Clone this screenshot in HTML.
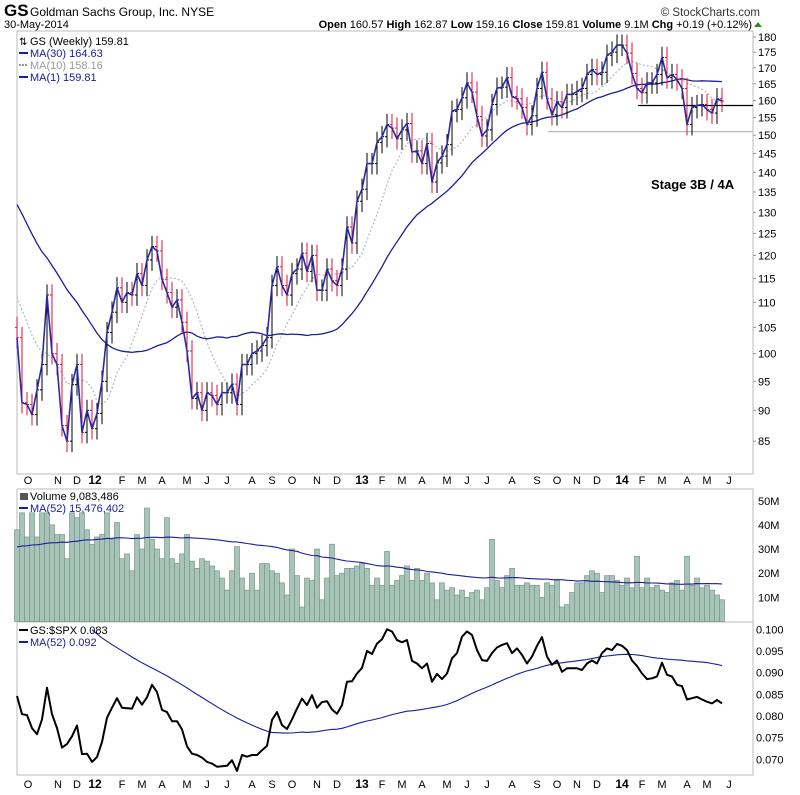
<!DOCTYPE html>
<html><head><meta charset="utf-8">
<style>
html,body{margin:0;padding:0;background:#fff;}
svg{display:block;font-family:"Liberation Sans",Arial,sans-serif;}
</style></head>
<body>
<svg id="chart" width="800" height="795" viewBox="0 0 800 795" xmlns="http://www.w3.org/2000/svg">
  <g>
    <text x="4" y="16" font-size="17" font-weight="bold" fill="#000">GS</text>
    <text x="30" y="16" font-size="12" fill="#000">Goldman Sachs Group, Inc.  NYSE</text>
    <text x="4" y="28" font-size="11" fill="#000">30-May-2014</text>
    <text x="760" y="16" font-size="11.5" fill="#333" text-anchor="end">© StockCharts.com</text>
    <text x="752" y="28" font-size="11" fill="#000" text-anchor="end"><tspan font-weight="bold">Open</tspan> 160.57 <tspan font-weight="bold">High</tspan> 162.87 <tspan font-weight="bold">Low</tspan> 159.16 <tspan font-weight="bold">Close</tspan> 159.81 <tspan font-weight="bold">Volume</tspan> 9.1M <tspan font-weight="bold">Chg</tspan> +0.19 (+0.12%)</text>
    <polygon points="754,27 762,27 758,22" fill="#2a8a2a"/>
  </g>
  <g id="panels"></g>
  <g id="price"></g>
  <g id="volume"></g>
  <g id="ratio"></g>
  <g id="axes"></g>
  <text x="651" y="189" font-size="13" font-weight="bold" fill="#000">Stage 3B / 4A</text>
</svg>
<script>
// ---------- DATA ----------
const priorCloses = [160,163,160,158,155,152,150,148,140,138,135,137,135,133,132,135,132,130,128,125,118,115,115,112,112,113,110,108,105];
const closes = [103,91.3,91,89.3,93.5,98,111.5,100,98,87.5,
85,94.4,98,86.4,90,87,89.5,95,104,108,
113,110,112,111.5,116,113.5,119,122,121,114.8,
112,109,110.5,106,100.5,92,93,90,93,92.5,
91,93,93,94.5,91,98,98,100,100.5,101.5,
103,113.5,117.5,113.5,111.5,116,117,120.5,116.5,120,
112.5,112.5,117,114.5,113.5,117,126.5,122.8,132.7,135.7,
142.3,142.3,148,149.6,153,152,149,151.5,153.3,145.4,
145.7,142.3,147.7,137.5,142.5,144.3,147.4,156.8,157.4,160.8,
165.3,162.5,155.3,149.8,151.5,158.8,163.7,164,166.9,161.2,
160.5,157.9,153,155.5,163.6,168.6,160.5,155.8,159.6,157.9,
161.8,161.8,162.7,163.6,167.9,169.5,167.9,168.6,174,175,
177.3,177.3,174.7,168.2,163.6,162.3,165.3,165.3,167.9,173.3,
166.9,167.9,166.3,163.6,153,157.9,158.5,158.8,157.3,156.3,
160.5,159.81];
const priorVolume = [28,30,26,32,29,27,31,33,25,28,30,34,27,29,31,26,28,30,33,29,27,31,35,30,28,32,29,31,34,30,27,33,36,29,31,28,32,35,30,33,31,29,34,37,32,30,35,33,31,36,34];
const volumes = [38,45,35,45,35,45,45,40,36,36,
26,45,43,45,38,32,35,36,45,34,
41,26,28,21,36,30,47,34,30,26,
43,26,24,28,36,25,22,26,25,23,
21,18,13,21,31,18,13,20,13,24,
24,21,20,16,11,30,19,6,18,17,
30,9,18,32,19,20,22,22,23,24,
22,15,18,15,29,15,17,19,23,17,
22,17,20,16,9,16,13,14,11,13,
10,12,13,9,14,34,17,14,19,22,
15,15,16,15,15,10,16,15,17,6,
7,12,16,16,19,21,20,12,19,19,
17,15,18,14,27,14,18,14,15,13,
12,16,17,13,27,15,18,14,15,13,
11,9];
const priorRatio = [0.128,0.129,0.127,0.126,0.128,0.130,0.129,0.127,0.125,0.124,
0.126,0.125,0.123,0.122,0.124,0.123,0.121,0.120,0.122,0.121,
0.119,0.118,0.120,0.119,0.117,0.116,0.118,0.116,0.114,0.113,
0.115,0.114,0.112,0.110,0.111,0.109,0.107,0.108,0.106,0.105,
0.103,0.104,0.102,0.100,0.101,0.099,0.098,0.097,0.096,0.095,0.094];
const ratio = [0.0846,0.0804,0.0802,0.0772,0.0758,0.0792,0.0865,0.0804,0.0772,0.0727,
0.0735,0.0753,0.0778,0.0712,0.0713,0.0694,0.0705,0.0740,0.0796,0.0819,
0.0841,0.0819,0.0818,0.0817,0.0843,0.0826,0.0843,0.0872,0.0855,0.0814,
0.0809,0.0788,0.0788,0.0769,0.0730,0.0713,0.0710,0.0704,0.0694,0.0690,
0.0683,0.0684,0.0685,0.0698,0.0673,0.0710,0.0706,0.0710,0.0710,0.0721,
0.0731,0.0791,0.0809,0.0779,0.0770,0.0792,0.0817,0.0840,0.0825,0.0848,
0.0819,0.0832,0.0834,0.0815,0.0805,0.0825,0.0879,0.0880,0.0898,0.0911,
0.0950,0.0943,0.0967,0.0977,0.1000,0.0995,0.0975,
0.0970,0.0975,0.0927,0.0921,0.0910,0.0921,0.0879,0.0897,0.0885,0.0898,
0.0933,0.0945,0.0983,0.0995,0.0987,0.0952,0.0929,0.0927,0.0945,0.0958,
0.0964,0.0968,0.0945,0.0956,0.0941,0.0921,0.0937,0.0962,0.0982,0.0937,
0.0918,0.0928,0.0902,0.0910,0.0910,0.0910,0.0906,0.0921,0.0928,0.0921,
0.0945,0.0956,0.0952,0.0966,0.0962,0.0952,0.0928,0.0915,0.0898,0.0885,
0.0887,0.0891,0.0923,0.0895,0.0891,0.0872,0.0869,0.0838,0.0841,0.0844,
0.0838,0.0833,0.0829,0.0837,0.0829];
const priceTicks = [85,90,95,100,105,110,115,120,125,130,135,140,145,150,155,160,165,170,175,180];
const volumeTicks = [10,20,30,40,50];
const volumeTickLabels = ["10M","20M","30M","40M","50M"];
const ratioTicks = [0.070,0.075,0.080,0.085,0.090,0.095,0.100];
const monthLabels = ["O","N","D","12","F","M","A","M","J","J","A","S","O","N","D","13","F","M","A","M","J","J","A","S","O","N","D","14","F","M","A","M","J"];
const monthWeeks = [2.2,8.2,12,15.6,21,25,29,34,38,42,47,51,55,60,64,69,73,77,81,86,90,94,99,104,108,112,116,121,125,129,134,138,142.4];
const supportLevel = 158.5;
const lowLevel = 151;

// ---------- SCALES ----------
const NS = "http://www.w3.org/2000/svg";
const L = 17, R = 753;
const xW = i => 17 + 5 * i;
const yP = p => 37 + (Math.log(180) - Math.log(p)) * 538.7;
const yV = m => 621.5 - m * 2.415;
const yR = v => 629.3 + (0.100 - v) * 4333;
function el(tag, attrs, parent) {
  const e = document.createElementNS(NS, tag);
  for (const k in attrs) e.setAttribute(k, attrs[k]);
  parent.appendChild(e);
  return e;
}
function ma(prior, vals, n) {
  const all = prior.concat(vals), out = [];
  for (let i = 0; i < vals.length; i++) {
    const end = prior.length + i;
    let s = 0, c = 0;
    for (let j = Math.max(0, end - n + 1); j <= end; j++) { s += all[j]; c++; }
    out.push(s / c);
  }
  return out;
}
function path(vals, yf, start) {
  let d = "";
  for (let i = start || 0; i < vals.length; i++) d += (d ? "L" : "M") + xW(i).toFixed(1) + "," + yf(vals[i]).toFixed(1);
  return d;
}

// ---------- PANELS ----------
const panels = document.getElementById("panels");
const pBox = el("rect", {x: L, y: 31, width: R - L, height: 443, fill: "#fff", stroke: "#bbb"}, panels);


const vBox = el("rect", {x: L, y: 489, width: R - L, height: 133, fill: "#fff", stroke: "#bbb"}, panels);


const rBox = el("rect", {x: L, y: 622, width: R - L, height: 153, fill: "#fff", stroke: "#bbb"}, panels);



// ---------- PRICE ----------
const pg = document.getElementById("price");
const ma30 = ma(priorCloses, closes, 30);
const ma10 = ma(priorCloses, closes, 10);
const m10 = el("path", {d: path(ma10, yP), fill: "none", stroke: "#b4b8bc", "stroke-width": 1.2, "stroke-dasharray": "2,2"}, pg);


const m30 = el("path", {d: path(ma30, yP), fill: "none", stroke: "#1c1c9c", "stroke-width": 1.3}, pg);


const sup = el("line", {x1: 638, x2: R, y1: yP(supportLevel), y2: yP(supportLevel), stroke: "#000", "stroke-width": 1.2}, pg);


const lowL = el("line", {x1: 548, x2: R, y1: yP(lowLevel), y2: yP(lowLevel), stroke: "#bbb", "stroke-width": 1.2}, pg);


for (let i = 0; i < closes.length; i++) {
  const c = closes[i], o = i > 0 ? closes[i - 1] : (priorCloses[priorCloses.length - 1]);
  const hi = Math.max(o, c) * 1.02, lo = Math.min(o, c) * 0.98;
  const col = c < o ? "#e0103a" : "#000";
  const x = xW(i);
  const g = el("g", {stroke: col, "stroke-width": 1}, pg);
  
  
  el("line", {x1: x, x2: x, y1: yP(hi), y2: yP(lo)}, g);
  el("line", {x1: x - 2, x2: x, y1: yP(o), y2: yP(o)}, g);
  el("line", {x1: x, x2: x + 2, y1: yP(c), y2: yP(c)}, g);
}
const m1 = el("path", {d: path(closes, yP), fill: "none", stroke: "#2a2aa8", "stroke-width": 1.6, "stroke-linejoin": "round"}, pg);


priceTicks.forEach(t => {
  const tx = el("text", {x: 758, y: yP(t) + 4, "font-size": 11, fill: "#000"}, pg);
  tx.textContent = t;
  
  
  el("line", {x1: R, x2: R + 3, y1: yP(t), y2: yP(t), stroke: "#999"}, pg);
});
const leg = el("g", {"font-size": 11}, pg);


[["GS (Weekly) 159.81", "#000", 45, null], ["MA(30) 164.63", "#1c1c9c", 57, "solid"], ["MA(10) 158.16", "#999", 69, "dot"], ["MA(1) 159.81", "#1c1c9c", 81, "solid"]].forEach(r => {
  const t = el("text", {x: 30, y: r[2], fill: r[1]}, leg);
  t.textContent = r[0];
  
  
  if (r[3]) el("line", {x1: 19, x2: 28, y1: r[2] - 4, y2: r[2] - 4, stroke: r[1], "stroke-width": 2, "stroke-dasharray": r[3] === "dot" ? "2,1" : "none"}, leg);
});
el("text", {x: 19, y: 45, "font-size": 10, fill: "#000"}, leg).textContent = "⇅";

// ---------- VOLUME ----------
const vg = document.getElementById("volume");
volumes.forEach((v, i) => {
  const r = el("rect", {x: xW(i) - 2.5, y: yV(v), width: 5, height: 621.5 - yV(v), fill: "#a8c4b8", stroke: "#78988a", "stroke-width": 0.7}, vg);
  
  
});
const vma = ma(priorVolume, volumes, 52);
const vmaL = el("path", {d: path(vma, yV), fill: "none", stroke: "#1c1c9c", "stroke-width": 1.1}, vg);


volumeTicks.forEach((t, k) => {
  const tx = el("text", {x: 758, y: yV(t) + 4, "font-size": 11, fill: "#000"}, vg);
  tx.textContent = volumeTickLabels[k];
  
  
});
const vt1 = el("text", {x: 30, y: 500, "font-size": 11, fill: "#000"}, vg);
vt1.textContent = "Volume 9,083,486";


el("rect", {x: 20, y: 493, width: 8, height: 7, fill: "#555"}, vg);
const vt2 = el("text", {x: 30, y: 512, "font-size": 11, fill: "#1c1c9c"}, vg);
vt2.textContent = "MA(52) 15,476,402";


el("line", {x1: 19, x2: 28, y1: 508, y2: 508, stroke: "#1c1c9c", "stroke-width": 2}, vg);

// ---------- RATIO ----------
const rg = document.getElementById("ratio");
const rma = ma(priorRatio, ratio, 52);
const rmaL = el("path", {d: path(rma, yR, 15), fill: "none", stroke: "#1c1c9c", "stroke-width": 1.1}, rg);


const rl = el("path", {d: path(ratio, yR), fill: "none", stroke: "#000", "stroke-width": 2, "stroke-linejoin": "round"}, rg);


ratioTicks.forEach(t => {
  const tx = el("text", {x: 756, y: yR(t) + 4, "font-size": 11, fill: "#000"}, rg);
  tx.textContent = t.toFixed(3);
  
  
});
const rt1 = el("text", {x: 30, y: 634, "font-size": 11, fill: "#000"}, rg);
rt1.textContent = "GS:$SPX 0.083";


el("line", {x1: 19, x2: 28, y1: 630, y2: 630, stroke: "#000", "stroke-width": 2}, rg);
const rt2 = el("text", {x: 30, y: 646, "font-size": 11, fill: "#1c1c9c"}, rg);
rt2.textContent = "MA(52) 0.092";


el("line", {x1: 19, x2: 28, y1: 642, y2: 642, stroke: "#1c1c9c", "stroke-width": 2}, rg);

// ---------- TIME AXES ----------
const ag = document.getElementById("axes");
[484, 788].forEach(yy => {
  monthLabels.forEach((m, k) => {
    const bold = m.length === 2;
    const t = el("text", {x: xW(monthWeeks[k]), y: yy, "font-size": bold ? 12 : 11, "font-weight": bold ? "bold" : "normal", fill: "#000", "text-anchor": "middle"}, ag);
    t.textContent = m;
    
    
  });
});
</script>
</body></html>
